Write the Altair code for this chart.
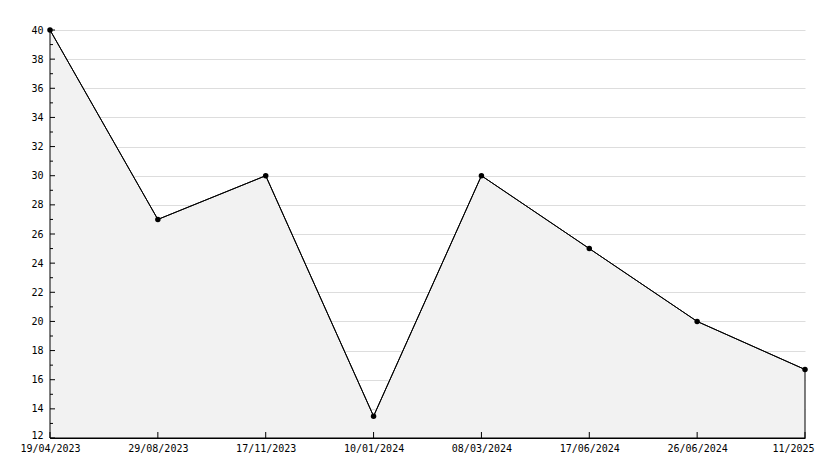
import altair as alt
import pandas as pd

dates = ["19/04/2023", "29/08/2023", "17/11/2023", "10/01/2024",
         "08/03/2024", "17/06/2024", "26/06/2024", "11/2025"]
values = [40, 27, 30, 13.5, 30, 25, 20, 16.7]
y_ticks = list(range(12, 41, 2))
y_minor = list(range(13, 40, 2))

df = pd.DataFrame({"date": dates, "value": values, "base": [12] * len(dates)})
df_major = pd.DataFrame({"v": y_ticks})
df_minor = pd.DataFrame({"v": y_minor})

W, H = 755, 408
FONT = "DejaVu Sans Mono"

x_scale = alt.Scale(type="point", padding=0, domain=dates)
y_scale = alt.Scale(domain=[12, 40], zero=False, nice=False)

x_axis = alt.Axis(labelAngle=0, ticks=False, labelPadding=5, grid=False,
                  domainColor="black", labelColor="black",
                  labelFont=FONT, labelFontSize=10, labelOverlap=False,
                  labelOffset={"condition": {"test": "datum.value == '11/2025'", "value": -12}, "value": 0})
y_axis = alt.Axis(values=y_ticks, tickCount=15, ticks=False, labelPadding=7, grid=True,
                  labelOverlap=False, labelFlush=False,
                  gridColor="#dddddd", domainColor="black", labelColor="black",
                  labelFont=FONT, labelFontSize=10,
                  labelOffset={"condition": {"test": "datum.value == 12", "value": -3}, "value": 0})

def X(field):
    return alt.X(field, sort=None, scale=x_scale, title=None, axis=x_axis)

def Y(field):
    return alt.Y(field, scale=y_scale, title=None, axis=y_axis)

base = alt.Chart(df)
area = base.mark_area(color="#f2f2f2", stroke="black", strokeWidth=1).encode(
    x=X("date:N"), y=Y("value:Q"), y2="base:Q")
line = base.mark_line(color="black", strokeWidth=1).encode(x=X("date:N"), y=Y("value:Q"))
pts = base.mark_point(filled=True, color="black", size=30, opacity=1).encode(
    x=X("date:N"), y=Y("value:Q"))

xticks = base.mark_rule(color="black").encode(
    x=X("date:N"), y=alt.value(H), y2=alt.value(H - 6))
yt_major = alt.Chart(df_major).mark_rule(color="black").encode(
    y=Y("v:Q"), x=alt.value(0), x2=alt.value(5))
yt_minor = alt.Chart(df_minor).mark_rule(color="black").encode(
    y=Y("v:Q"), x=alt.value(0), x2=alt.value(3))

chart = alt.layer(area, line, xticks, yt_major, yt_minor, pts).properties(
    width=W, height=H,
    autosize=alt.AutoSizeParams(type="none"),
    padding={"left": 42, "top": 22, "right": 21, "bottom": 22},
    background="white",
).configure_view(stroke=None)

chart.save("out.html", embed_options={"renderer": "svg", "actions": False})
